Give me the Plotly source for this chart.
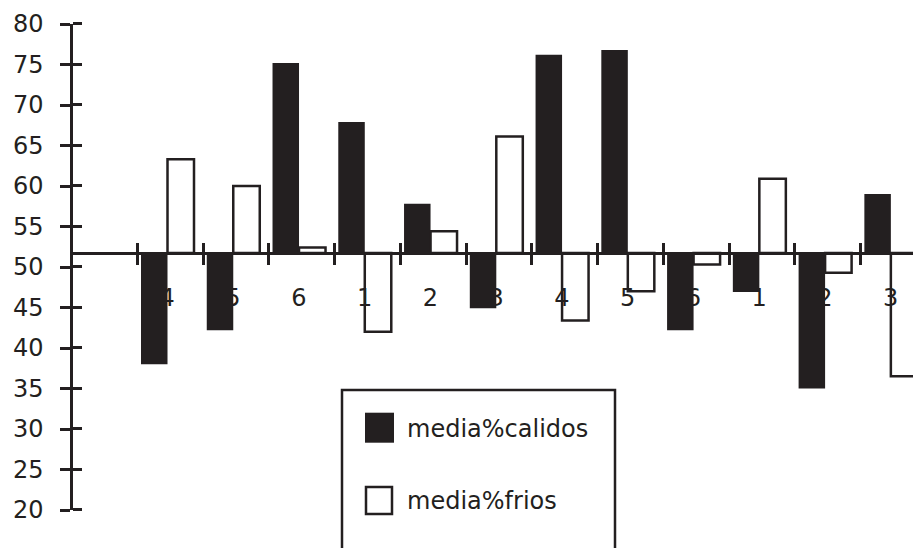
import plotly.graph_objects as go

# ---- data ----
categories = ["4", "5", "6", "1", "2", "3", "4", "5", "6", "1", "2", "3"]
calidos = [38.0, 42.2, 75.2, 67.9, 57.8, 44.9, 76.2, 76.8, 42.2, 46.9, 35.0, 59.0]
frios = [63.3, 60.0, 52.4, 42.0, 54.4, 66.1, 43.4, 47.0, 50.3, 60.9, 49.3, 36.5]
series_names = ["media%calidos", "media%frios"]
base_value = 51.73          # value where the category axis crosses
y_ticks = [20, 25, 30, 35, 40, 45, 50, 55, 60, 65, 70, 75, 80]

# ---- style / geometry ----
INK = "#231f20"
FONT = "DejaVu Sans"
FS = 24
LW = 2.5
Y_MIN, Y_MAX = 20, 80
W, H = 921, 548
PAGE_OFF = 8                      # default body margin of the html page
ML, MT, MR, MB = 63, 16, 0, 46
PW, PH = W - ML - MR, H - MT - MB

x_pos = list(range(len(categories)))
x_range = [-1.4675, 11.58]
cat_px = PW / (x_range[1] - x_range[0])
B_OFF = 0.46                      # tick marks sit just left of the group edge
boundaries = [i - B_OFF for i in range(len(categories) + 1)]
EPS = 1e-3
cross = (base_value - Y_MIN) / (Y_MAX - Y_MIN)


def px_x(X):   # page pixel -> paper x
    return (X - PAGE_OFF - ML) / PW


def px_y(Y):   # page pixel -> paper y
    return 1 - (Y - PAGE_OFF - MT) / PH


fig = go.Figure()
fig.add_bar(
    x=x_pos, y=[v - base_value for v in calidos], base=base_value,
    name=series_names[0], showlegend=False,
    marker=dict(color=INK, line=dict(width=0)),
)
fig.add_bar(
    x=x_pos, y=[v - base_value for v in frios], base=base_value,
    name=series_names[1], showlegend=False,
    marker=dict(color="white", line=dict(color=INK, width=LW)),
)

# ---- legend box (drawn like the original: large swatches, open bottom) ----
shapes = [
    dict(type="rect", xref="paper", yref="paper",
         x0=px_x(342), x1=px_x(615), y0=px_y(580), y1=px_y(390),
         line=dict(color=INK, width=LW), fillcolor="white", layer="above"),
    dict(type="rect", xref="paper", yref="paper",
         x0=px_x(365), x1=px_x(394), y0=px_y(442.7), y1=px_y(412.7),
         line=dict(width=0), fillcolor=INK, layer="above"),
    dict(type="rect", xref="paper", yref="paper",
         x0=px_x(366), x1=px_x(392), y0=px_y(514), y1=px_y(487),
         line=dict(color=INK, width=LW), fillcolor="white", layer="above"),
]
annotations = [
    dict(text=series_names[0], xref="paper", yref="paper",
         x=px_x(405), y=px_y(429), xanchor="left", yanchor="middle",
         showarrow=False, font=dict(family=FONT, size=FS, color=INK)),
    dict(text=series_names[1], xref="paper", yref="paper",
         x=px_x(405), y=px_y(501), xanchor="left", yanchor="middle",
         showarrow=False, font=dict(family=FONT, size=FS, color=INK)),
]

fig.update_layout(
    width=W, height=H,
    margin=dict(l=ML, r=MR, t=MT, b=MB, autoexpand=False),
    paper_bgcolor="white", plot_bgcolor="white",
    barmode="group", bargap=0.194, bargroupgap=0,
    font=dict(family=FONT, size=FS, color=INK),
    showlegend=False,
    shapes=shapes, annotations=annotations,
    xaxis=dict(
        range=x_range, anchor="free", position=cross,
        showline=True, linecolor=INK, linewidth=LW,
        tickmode="array", tickvals=boundaries,
        ticktext=categories + [""],
        ticks="outside", ticklen=10, tickwidth=LW, tickcolor=INK,
        minor=dict(tickmode="array", tickvals=[b + EPS for b in boundaries],
                   ticks="inside", ticklen=9, tickwidth=LW, tickcolor=INK,
                   showgrid=False),
        ticklabelshift=int(round(B_OFF * cat_px)),
        ticklabelstandoff=12,
        showgrid=False, zeroline=False,
        tickfont=dict(family=FONT, size=FS, color=INK),
    ),
    yaxis=dict(
        range=[Y_MIN, Y_MAX], anchor="free", position=0,
        showline=True, linecolor=INK, linewidth=LW,
        tickmode="array", tickvals=y_ticks,
        ticks="outside", ticklen=10, tickwidth=LW, tickcolor=INK,
        minor=dict(tickmode="array", tickvals=[v + EPS for v in y_ticks],
                   ticks="inside", ticklen=9, tickwidth=LW, tickcolor=INK,
                   showgrid=False),
        showgrid=False, zeroline=False,
        tickfont=dict(family=FONT, size=FS, color=INK),
        ticklabelstandoff=12,
    ),
)

fig.write_html("out.html")
